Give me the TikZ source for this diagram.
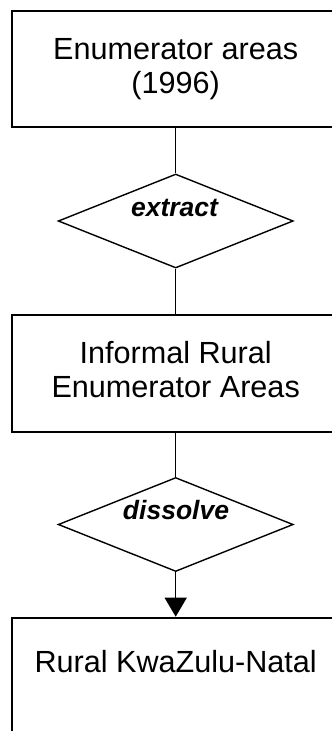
\documentclass[tikz,border=0pt]{standalone}
\usepackage{fontspec}
\setmainfont{Liberation Sans}
\usetikzlibrary{shapes.geometric,arrows.meta}

\tikzset{
  stepbox/.style={draw=black, line width=2pt, rectangle, inner sep=0pt,
    minimum width=327.4pt, minimum height=116pt},
  decision/.style={draw=black, line width=1.4pt, diamond, inner sep=0pt,
    minimum width=235pt, minimum height=94pt},
  boxtext/.style={anchor=base, align=center, inner sep=0pt,
    font=\fontsize{30.6pt}{34.5pt}\selectfont},
  optext/.style={anchor=base, inner sep=0pt,
    font=\fontsize{26.5pt}{30pt}\selectfont\bfseries\itshape},
  link/.style={draw=black, line width=1.4pt}
}

\begin{document}
\begin{tikzpicture}[x=1pt, y=-1pt]
  \useasboundingbox (0,0) rectangle (332,731);

  % process boxes
  \node[stepbox] (b1) at (175.7,69) {};
  \node[stepbox, minimum height=116.7pt] (b2) at (175.7,373.3) {};
  \node[stepbox] (b3) at (175.7,675.7) {};

  % operations
  \node[decision] (d1) at (175.7,221) {};
  \node[decision] (d2) at (175.7,524.5) {};

  % labels (base anchor sits on the last line)
  \node[boxtext] (t1) at (175.7,93.5) {Enumerator areas\\(1996)};
  \node[boxtext] (t2) at (175.7,397.7) {Informal Rural\\Enumerator Areas};
  \node[boxtext] (t3) at (175.7,672.7) {Rural KwaZulu-Natal};
  \node[optext] (o1) at (174.5,216) {extract};
  \node[optext] (o2) at (176,519.3) {dissolve};

  % connectors
  \draw[link] (b1.south) -- (d1.north);
  \draw[link] (d1.south) -- (b2.north);
  \draw[link] (b2.south) -- (d2.north);
  \draw[link, -{Triangle[width=22pt,length=19pt]}] (d2.south) -- (b3.north);
\end{tikzpicture}
\end{document}
